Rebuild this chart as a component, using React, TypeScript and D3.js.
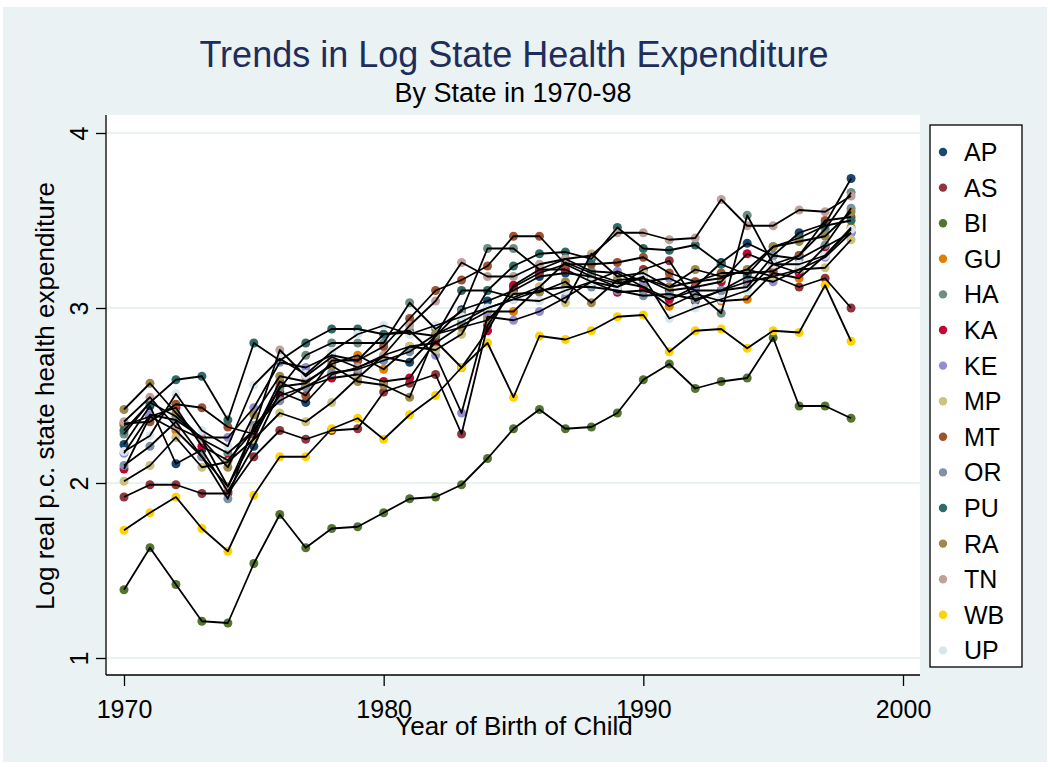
import React, { useEffect, useRef } from "react";
import * as d3 from "d3";

const years = [
  1970, 1971, 1972, 1973, 1974, 1975, 1976, 1977, 1978, 1979, 1980, 1981, 1982, 1983, 1984,
  1985, 1986, 1987, 1988, 1989, 1990, 1991, 1992, 1993, 1994, 1995, 1996, 1997, 1998,
];
const states = ["AP", "AS", "BI", "GU", "HA", "KA", "KE", "MP", "MT", "OR", "PU", "RA", "TN", "WB", "UP"];
const colors = [
  "#1a476f", "#90353b", "#55752f", "#e37e00", "#6e8e84", "#c10534", "#938dd2", "#cac27e",
  "#a0522d", "#7b92a8", "#2d6d66", "#9c8847", "#bfa19c", "#ffd200", "#d9e6eb",
];

const AP = [2.22, 2.44, 2.11, 2.19, 1.95, 2.21, 2.52, 2.46, 2.62, 2.66, 2.72, 2.69, 2.84, 2.99, 3.04, 3.10, 3.18, 3.20, 3.18, 3.14, 3.17, 3.10, 3.12, 3.26, 3.37, 3.30, 3.43, 3.48, 3.74];
const AS = [1.92, 1.99, 1.99, 1.94, 1.94, 2.15, 2.30, 2.25, 2.30, 2.31, 2.52, 2.57, 2.62, 2.28, 2.90, 3.12, 3.20, 3.25, 3.18, 3.12, 3.22, 3.27, 3.04, 3.10, 3.15, 3.18, 3.12, 3.17, 3.00];
const BI = [1.39, 1.63, 1.42, 1.21, 1.20, 1.54, 1.82, 1.63, 1.74, 1.75, 1.83, 1.91, 1.92, 1.99, 2.14, 2.31, 2.42, 2.31, 2.32, 2.40, 2.59, 2.68, 2.54, 2.58, 2.60, 2.83, 2.44, 2.44, 2.37];
const GU = [2.33, 2.38, 2.30, 2.15, 1.98, 2.26, 2.55, 2.57, 2.68, 2.73, 2.65, 2.78, 2.80, 2.90, 2.98, 2.98, 3.12, 3.26, 3.20, 3.15, 3.12, 3.01, 3.08, 3.04, 3.05, 3.20, 3.17, 3.30, 3.46];
const HA = [2.28, 2.46, 2.38, 2.25, 2.17, 2.30, 2.54, 2.73, 2.80, 2.80, 2.80, 3.03, 2.88, 2.98, 3.34, 3.34, 3.22, 3.28, 3.21, 3.20, 3.12, 3.05, 3.10, 2.97, 3.53, 3.25, 3.30, 3.45, 3.66];
const KA = [2.08, 2.38, 2.43, 2.21, 2.13, 2.30, 2.50, 2.55, 2.60, 2.62, 2.58, 2.60, 2.81, 2.66, 2.87, 3.13, 3.22, 3.22, 3.15, 3.09, 3.10, 3.05, 3.12, 3.15, 3.31, 3.25, 3.20, 3.35, 3.43];
const KE = [2.17, 2.39, 2.36, 2.26, 2.26, 2.43, 2.69, 2.66, 2.73, 2.70, 2.85, 2.87, 2.73, 2.40, 2.95, 2.93, 2.98, 3.06, 3.15, 3.21, 3.15, 3.17, 3.10, 3.10, 3.18, 3.15, 3.22, 3.29, 3.43];
const MP = [2.01, 2.10, 2.26, 2.09, 2.12, 2.25, 2.40, 2.35, 2.46, 2.60, 2.73, 2.78, 2.76, 2.85, 3.10, 3.06, 3.12, 3.03, 3.31, 3.18, 3.20, 3.12, 3.15, 3.17, 3.22, 3.18, 3.22, 3.23, 3.39];
const MT = [2.34, 2.35, 2.45, 2.43, 2.32, 2.28, 2.58, 2.50, 2.70, 2.70, 2.78, 2.94, 3.10, 3.16, 3.24, 3.41, 3.41, 3.25, 3.25, 3.26, 3.29, 3.20, 3.15, 3.20, 3.20, 3.21, 3.30, 3.50, 3.52];
const OR = [2.10, 2.21, 2.35, 2.15, 1.91, 2.33, 2.47, 2.55, 2.63, 2.65, 2.70, 2.75, 2.85, 2.92, 3.00, 3.05, 3.10, 3.12, 3.12, 3.10, 3.07, 3.08, 3.05, 3.10, 3.12, 3.30, 3.28, 3.36, 3.57];
const PU = [2.30, 2.46, 2.59, 2.61, 2.36, 2.80, 2.70, 2.80, 2.88, 2.88, 2.85, 2.86, 2.84, 3.10, 3.10, 3.24, 3.31, 3.32, 3.28, 3.46, 3.34, 3.33, 3.36, 3.25, 3.19, 3.35, 3.40, 3.47, 3.50];
const RA = [2.42, 2.57, 2.40, 2.25, 2.09, 2.39, 2.61, 2.58, 2.67, 2.58, 2.56, 2.49, 2.85, 2.89, 2.93, 3.08, 3.09, 3.15, 3.03, 3.16, 3.17, 3.12, 3.22, 3.18, 3.22, 3.35, 3.38, 3.41, 3.55];
const TN = [2.35, 2.49, 2.32, 2.25, 1.98, 2.31, 2.76, 2.61, 2.72, 2.66, 2.73, 2.90, 3.04, 3.26, 3.18, 3.18, 3.25, 3.28, 3.30, 3.43, 3.43, 3.39, 3.40, 3.62, 3.47, 3.47, 3.56, 3.55, 3.64];
const WB = [1.73, 1.83, 1.92, 1.74, 1.61, 1.93, 2.15, 2.15, 2.31, 2.37, 2.25, 2.39, 2.50, 2.66, 2.80, 2.49, 2.84, 2.82, 2.87, 2.95, 2.96, 2.75, 2.87, 2.88, 2.77, 2.87, 2.86, 3.13, 2.81];
const UP = [2.18, 2.27, 2.51, 2.30, 2.21, 2.56, 2.71, 2.62, 2.75, 2.85, 2.90, 2.85, 2.90, 2.95, 3.00, 3.05, 3.04, 3.10, 3.15, 3.12, 3.18, 2.94, 3.00, 3.05, 3.10, 3.25, 3.25, 3.30, 3.45];

const seriesValues = [AP, AS, BI, GU, HA, KA, KE, MP, MT, OR, PU, RA, TN, WB, UP];
const xTicks = [1970, 1980, 1990, 2000];
const yTicks = [1, 2, 3, 4];

export default function App() {
  const ref = useRef<SVGSVGElement>(null);

  useEffect(() => {
    const width = 1050;
    const height = 767;
    const font = "'Liberation Sans', Arial, sans-serif";
    const svg = d3.select(ref.current).attr("width", width).attr("height", height);
    svg.selectAll("*").remove();

    const plot = { left: 106, right: 920, top: 115, bottom: 675 };
    const x = d3.scaleLinear().domain([1970, 2000]).range([124, 903]);
    const y = d3.scaleLinear().domain([1, 4]).range([658, 133]);

    // backgrounds
    svg.append("rect").attr("width", width).attr("height", height).attr("fill", "#ffffff");
    svg.append("rect").attr("x", 3).attr("y", 7).attr("width", 1044).attr("height", 755).attr("fill", "#eaf2f3");
    svg
      .append("rect")
      .attr("x", plot.left)
      .attr("y", plot.top)
      .attr("width", plot.right - plot.left)
      .attr("height", plot.bottom - plot.top)
      .attr("fill", "#ffffff");

    // grid
    svg
      .append("g")
      .selectAll("line")
      .data(yTicks)
      .join("line")
      .attr("x1", plot.left)
      .attr("x2", plot.right)
      .attr("y1", (d) => y(d))
      .attr("y2", (d) => y(d))
      .attr("stroke", "#eaf2f3")
      .attr("stroke-width", 2);

    // markers
    const pts = seriesValues.flatMap((vals, i) => vals.map((v, j) => ({ v, yr: years[j], c: colors[i] })));
    svg
      .append("g")
      .selectAll("circle")
      .data(pts)
      .join("circle")
      .attr("cx", (d) => x(d.yr))
      .attr("cy", (d) => y(d.v))
      .attr("r", 4.5)
      .attr("fill", (d) => d.c);

    // lines
    const line = d3
      .line<number>()
      .x((_, j) => x(years[j]))
      .y((d) => y(d));
    svg
      .append("g")
      .selectAll("path")
      .data(seriesValues)
      .join("path")
      .attr("d", (d) => line(d))
      .attr("fill", "none")
      .attr("stroke", "#000000")
      .attr("stroke-width", 1.8)
      .attr("stroke-linejoin", "round");

    // axes
    const xAxis = svg
      .append("g")
      .attr("transform", `translate(0,${plot.bottom})`)
      .call(d3.axisBottom(x).tickValues(xTicks).tickSize(11).tickPadding(6).tickFormat(d3.format("d")));
    xAxis.select(".domain").attr("d", `M${plot.left},0H${plot.right}`);
    const yAxis = svg
      .append("g")
      .attr("transform", `translate(${plot.left},0)`)
      .call(d3.axisLeft(y).tickValues(yTicks).tickSize(10).tickFormat(d3.format("d")));
    yAxis.select(".domain").attr("d", `M0,${plot.top}V${plot.bottom}`);
    [xAxis, yAxis].forEach((a) => {
      a.selectAll("path,line").attr("stroke", "#000000").attr("stroke-width", 1.3);
      a.selectAll("text").attr("fill", "#000000").attr("font-family", font).attr("font-size", 25);
    });
    xAxis.selectAll("text").attr("y", 0).attr("dy", null).attr("transform", "translate(0,43)");
    yAxis
      .selectAll("text")
      .attr("x", null)
      .attr("dy", null)
      .attr("text-anchor", "middle")
      .attr("transform", "translate(-18,0) rotate(-90)");

    // labels
    svg
      .append("text")
      .attr("x", 514)
      .attr("y", 735)
      .attr("text-anchor", "middle")
      .attr("font-family", font)
      .attr("font-size", 26)
      .text("Year of Birth of Child");
    svg
      .append("text")
      .attr("transform", `translate(54,396) rotate(-90)`)
      .attr("text-anchor", "middle")
      .attr("font-family", font)
      .attr("font-size", 26)
      .text("Log real p.c. state health expenditure");

    // title
    svg
      .append("text")
      .attr("x", 514)
      .attr("y", 67)
      .attr("text-anchor", "middle")
      .attr("font-family", font)
      .attr("font-size", 36)
      .attr("fill", "#1e2d5a")
      .text("Trends in Log State Health Expenditure");
    svg
      .append("text")
      .attr("x", 513)
      .attr("y", 102)
      .attr("text-anchor", "middle")
      .attr("font-family", font)
      .attr("font-size", 27)
      .text("By State in 1970-98");

    // legend
    const lg = svg.append("g");
    lg.append("rect")
      .attr("x", 930)
      .attr("y", 125)
      .attr("width", 92)
      .attr("height", 542)
      .attr("fill", "#ffffff")
      .attr("stroke", "#000000")
      .attr("stroke-width", 1.3);
    const items = lg
      .selectAll("g.item")
      .data(states)
      .join("g")
      .attr("class", "item")
      .attr("transform", (_, i) => `translate(0,${152 + i * 35.6})`);
    items.append("circle").attr("cx", 943).attr("cy", 0).attr("r", 4.2).attr("fill", (_, i) => colors[i]);
    items
      .append("text")
      .attr("x", 964)
      .attr("y", 9)
      .attr("font-family", font)
      .attr("font-size", 25)
      .text((d) => d);
  }, []);

  return <svg ref={ref} style={{ position: "absolute", left: 0, top: 0 }} />;
}
